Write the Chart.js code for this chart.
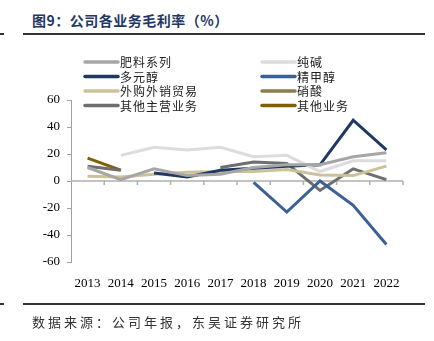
<!DOCTYPE html>
<html>
<head>
<meta charset="utf-8">
<script src="https://cdn.jsdelivr.net/npm/chart.js@4"></script>
<style>
  html, body { margin: 0; padding: 0; background: #fff; }
  #wrap { position: relative; width: 434px; height: 341px; overflow: hidden; }
  #title { position: absolute; left: 32px; top: 10px; font: bold 14px "Noto Sans CJK SC", sans-serif; color: #1f3864; letter-spacing: 0.5px; }
  .rule { position: absolute; height: 2px; background: #333; }
  #source { position: absolute; left: 32px; top: 312px; font: 13px "Noto Sans CJK SC", sans-serif; color: #333; letter-spacing: 3px; }
  canvas { position: absolute; left: 0; top: 0; }
</style>
</head>
<body>
<div id="wrap">
  <div id="title">图9：公司各业务毛利率（%）</div>
  <div class="rule" style="left:0;width:4px;top:33px"></div>
  <div class="rule" style="left:23px;width:402px;top:33px"></div>
  <canvas id="myChart" width="434" height="341"></canvas>
  <div class="rule" style="left:0;width:4px;top:303px"></div>
  <div class="rule" style="left:23px;width:402px;top:303px"></div>
  <div id="source">数据来源：公司年报，东吴证券研究所</div>
</div>
<script>
// ============= data =====================
const years = ["2013", "2014", "2015", "2016", "2017", "2018", "2019", "2020", "2021", "2022"];
const seriesNames = ["肥料系列", "纯碱", "多元醇", "精甲醇", "外购外销贸易", "硝酸", "其他主营业务", "其他业务"];
const fertilizer = [10, 1, 9, 4, 5, 10, 12, 12, 18, 21];
const sodaAsh = [null, 19, 25, 23, 25, 18, 19, 7, 15, 15];
const polyol = [null, null, 6, 3, 8, 9.5, 11, 12, 45, 23];
const methanol = [null, null, null, null, null, -1, -23, 0, -18, -47];
const trading = [3.5, 3, 5, 6.5, 7, 7, 8.5, 4.5, 4, 11];
const nitricAcid = [null, null, null, null, null, null, null, null, null, null];
const otherMain = [11, 8, null, null, 10, 14, 13, -7, 9, 1];
const otherBiz = [17, 8, null, null, null, null, null, null, null, null];
const yTicks = [-60, -40, -20, 0, 20, 40, 60];

const colors = ["#a6a6a6", "#dcdcdc", "#1f3864", "#3b6096", "#cbc29a", "#8c7d4a", "#6e6e6e", "#7f6000"];
const values = [fertilizer, sodaAsh, polyol, methanol, trading, nitricAcid, otherMain, otherBiz];

// ============= plugins =====================
// zero line with small tick marks between the years
const zeroLine = {
    id: 'zeroLine',
    beforeDatasetsDraw(chart) {
        const ctx = chart.ctx, x = chart.scales.x, y = chart.scales.y;
        const y0 = y.getPixelForValue(0);
        const step = x.getPixelForValue(1) - x.getPixelForValue(0);
        ctx.save();
        ctx.strokeStyle = '#b0b0b0';
        ctx.lineWidth = 1.5;
        ctx.beginPath();
        ctx.moveTo(chart.chartArea.left, y0);
        ctx.lineTo(chart.chartArea.right, y0);
        for (let i = 1; i <= years.length; i++) {
            const px = x.getPixelForValue(i - 1) + step / 2;
            ctx.moveTo(px, y0);
            ctx.lineTo(px, y0 + 4);
        }
        ctx.stroke();
        ctx.restore();
    }
};

// two-column legend drawn on the canvas
const twoColLegend = {
    id: 'twoColLegend',
    afterDraw(chart) {
        const ctx = chart.ctx;
        ctx.save();
        ctx.font = '12px "Noto Sans CJK SC", sans-serif';
        ctx.letterSpacing = '1px';
        ctx.textBaseline = 'middle';
        ctx.fillStyle = '#222';
        chart.data.datasets.forEach((ds, i) => {
            const col = i % 2, row = Math.floor(i / 2);
            const lx = col === 0 ? 85 : 262;
            const ly = 62 + row * 14.5;
            ctx.strokeStyle = ds.borderColor;
            ctx.lineWidth = 3.5;
            ctx.lineCap = 'round';
            ctx.beginPath();
            ctx.moveTo(lx, ly);
            ctx.lineTo(lx + 33, ly);
            ctx.stroke();
            ctx.fillText(ds.label, lx + 35, ly + 0.5);
        });
        ctx.restore();
    }
};

// ============ CHART =================
const ctx = document.querySelector('#myChart').getContext('2d');
const chart = new Chart(ctx, {
    type: 'line',
    data: {
        labels: years,
        datasets: seriesNames.map((name, i) => ({
            label: name,
            data: values[i],
            borderColor: colors[i],
            backgroundColor: colors[i],
            borderWidth: 3,
            pointRadius: 0,
            tension: 0,
            spanGaps: false
        }))
    },
    options: {
        responsive: false,
        animation: false,
        layout: { padding: { top: 100, right: 31, bottom: 49, left: 0 } },
        plugins: {
            legend: { display: false },
            tooltip: { enabled: false }
        },
        scales: {
            x: {
                offset: true,
                grid: { display: false },
                border: { display: false },
                ticks: { padding: 6, color: '#000', maxRotation: 0, font: { family: 'Liberation Serif', size: 13 } },
                afterFit(scale) { scale.height = 30; }
            },
            y: {
                min: -60,
                max: 60,
                afterBuildTicks(scale) { scale.ticks = yTicks.map(v => ({ value: v })); },
                grid: { drawOnChartArea: false, tickLength: 4, color: '#a0a0a0' },
                border: { display: true, color: '#a0a0a0' },
                ticks: { padding: 7, color: '#000', font: { family: 'Liberation Serif', size: 13 } },
                afterFit(scale) { scale.width = 71; }
            }
        }
    },
    plugins: [zeroLine, twoColLegend]
});
</script>
</body>
</html>
